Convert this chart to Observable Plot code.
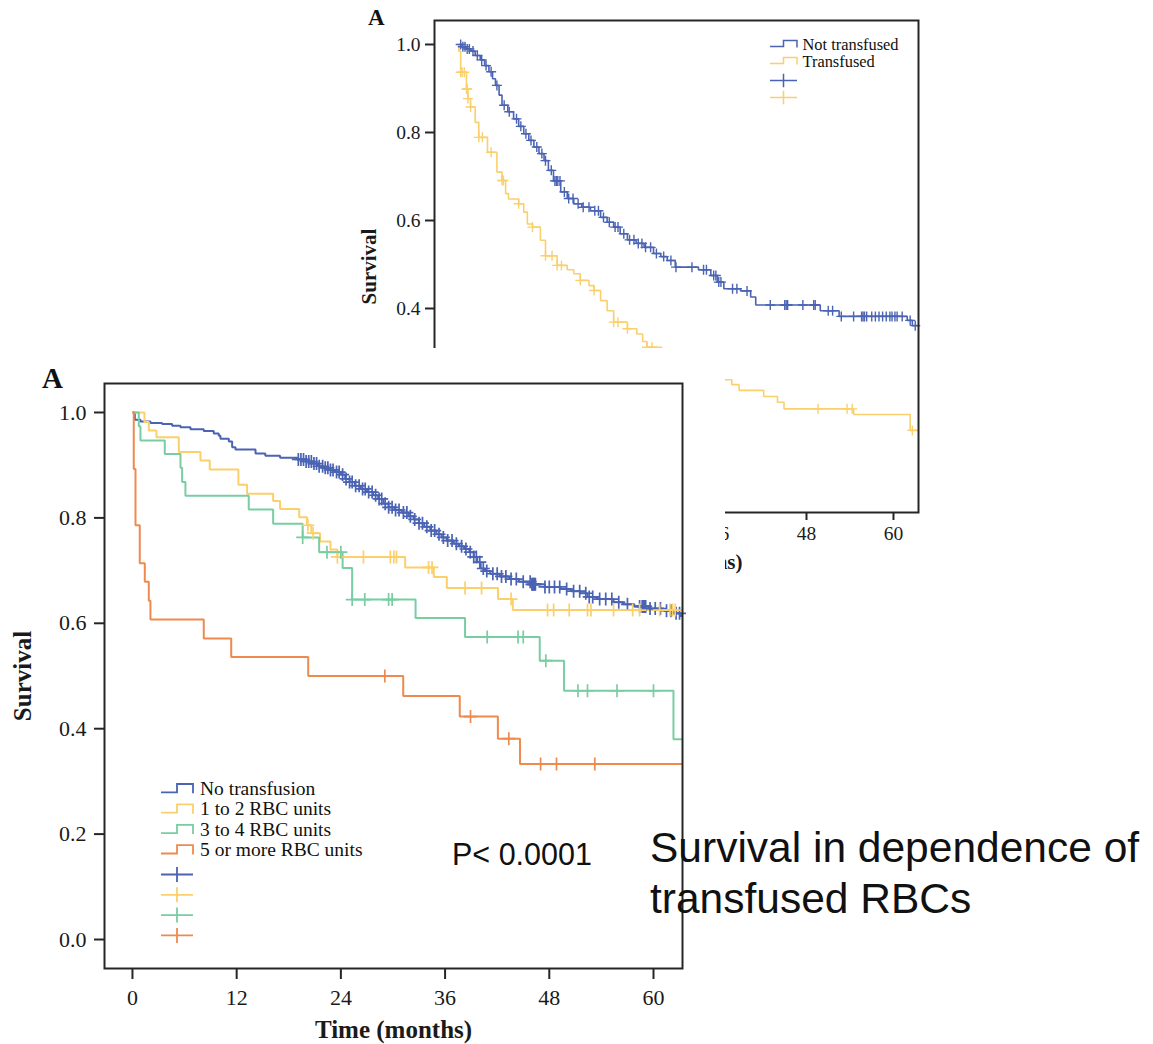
<!DOCTYPE html>
<html>
<head>
<meta charset="utf-8">
<script src="https://cdn.jsdelivr.net/npm/d3@7"></script>
<script src="https://cdn.jsdelivr.net/npm/@observablehq/plot@0.6"></script>
<style>
html, body { margin: 0; padding: 0; background: #fff; }
#page { position: relative; width: 1153px; height: 1044px; overflow: hidden; background: #fff; }
#top { position: absolute; left: 340px; top: 0px; width: 600px; height: 600px; }
#bottomBox { position: absolute; left: 0px; top: 348px; width: 725px; height: 696px; background: #fff; }
#overlay { position: absolute; left: 0; top: 0; width: 1153px; height: 1044px; pointer-events: none; }
#bottomBox g[aria-label="y-axis label"], #bottomBox g[aria-label="x-axis label"] { font-weight: bold; font-size: 25px; }
#top g[aria-label="y-axis label"], #top g[aria-label="x-axis label"] { font-weight: bold; font-size: 21px; }
</style>
</head>
<body>
<div id="page">
  <div id="top"></div>
  <div id="bottomBox"></div>
  <svg id="overlay" width="1153" height="1044"></svg>
</div>
<script>
// ================= DATA =================
const xTicks = [0, 12, 24, 36, 48, 60];
const yTicks = [0.0, 0.2, 0.4, 0.6, 0.8, 1.0];

// ---- Top panel: Not transfused vs Transfused ----
const topSeriesNames = ["Not transfused", "Transfused"];
const topSeriesColors = ["#4a63b3", "#f9d06c"];
const topFollowUpEnd = 64;
const topNotTransfusedSteps = [
  [0,1.0],[0.5,0.995],[1.0,0.99],[1.7,0.985],[2.3,0.975],[3.0,0.965],[3.6,0.952],[4.2,0.938],[4.7,0.922],
  [5.1,0.907],[5.6,0.885],[6.0,0.862],[6.8,0.847],[7.6,0.831],[8.3,0.814],[9.0,0.797],[9.7,0.782],[10.4,0.767],
  [11.1,0.752],[11.8,0.736],[12.4,0.714],[13.1,0.690],[14.1,0.665],[15.0,0.650],[15.9,0.638],[17.0,0.630],
  [18.2,0.622],[19.6,0.607],[20.5,0.596],[21.4,0.585],[22.3,0.570],[23.3,0.556],[24.5,0.548],[25.6,0.539],
  [26.9,0.525],[27.9,0.518],[28.8,0.509],[29.9,0.494],[33.1,0.488],[34.8,0.475],[35.7,0.460],[36.6,0.445],
  [38.9,0.440],[40.3,0.426],[41.0,0.408],[49.9,0.395],[52.5,0.382],[61.9,0.373],[62.6,0.361]
];
const topNotTransfusedCensors = [
  0.3,0.6,0.9,1.2,1.5,2.0,2.6,3.2,3.8,4.5,5.3,6.3,7.0,8.0,8.6,9.3,10.0,10.8,11.5,12.0,12.8,13.3,13.5,13.7,
  14.0,14.6,15.2,15.8,16.5,17.2,18.0,18.8,19.3,20.0,20.8,21.6,22.0,22.8,23.6,24.2,24.8,25.3,25.8,26.5,27.3,
  28.3,29.3,30.0,32.2,33.8,34.2,35.2,35.5,35.9,36.2,37.8,38.4,39.8,43.0,45.0,45.2,45.4,47.5,49.0,49.2,51.0,
  51.6,52.8,54.5,55.6,55.8,56.0,56.3,57.0,57.5,58.0,58.5,59.0,59.5,59.8,60.2,60.5,61.2,62.3,63.0
];
const topTransfusedSteps = [
  [0,1.0],[0.05,0.985],[0.3,0.937],[1.1,0.899],[1.3,0.877],[1.66,0.858],[2.3,0.823],[2.8,0.789],[4.0,0.755],
  [5.3,0.710],[6.0,0.691],[6.5,0.661],[6.9,0.649],[8.3,0.638],[9.0,0.619],[9.5,0.592],[10.2,0.585],[11.3,0.555],
  [12.0,0.520],[13.6,0.498],[15.0,0.488],[15.9,0.479],[16.8,0.464],[18.0,0.452],[18.7,0.441],[19.6,0.418],
  [20.5,0.395],[21.4,0.369],[23.3,0.354],[24.6,0.342],[25.4,0.325],[26.0,0.312],[28.0,0.295],[29.5,0.282],
  [31.0,0.270],[33.0,0.258],[35.0,0.248],[36.5,0.238],[37.7,0.227],[38.7,0.214],[42.1,0.200],[44.0,0.187],
  [44.9,0.172],[54.5,0.159],[62.3,0.123]
];
const topTransfusedCensors = [
  0.3,0.5,0.8,1.1,1.2,1.3,1.66,2.8,3.3,4.5,6.0,6.2,8.3,10.2,12.0,12.9,13.6,14.2,16.8,18.7,21.4,22.0,23.3,
  26.0,26.7,49.6,53.6,54.3,62.6
];

// ---- Bottom panel: by number of RBC units ----
const bottomSeriesNames = ["No transfusion", "1 to 2 RBC units", "3 to 4 RBC units", "5 or more RBC units"];
const bottomSeriesColors = ["#4a63b3", "#fbd06a", "#78cda2", "#ef8a4e"];
const bottomFollowUpEnd = 64;
const noTransfusionSteps = [
  [0,1.0],[0.27,0.986],[0.92,0.983],[2.07,0.980],[3.42,0.978],[4.57,0.975],[5.53,0.972],[6.68,0.968],
  [8.21,0.965],[9.36,0.960],[9.94,0.956],[10.13,0.950],[11.1,0.945],[11.48,0.934],[11.86,0.930],[14.17,0.922],
  [15.3,0.918],[17.0,0.914],[18.97,0.911],[20.0,0.907],[20.8,0.903],[21.4,0.898],[22.0,0.895],[22.6,0.891],
  [23.4,0.887],[24.0,0.882],[24.5,0.874],[25.0,0.868],[25.6,0.861],[26.3,0.855],[27.0,0.849],[27.7,0.843],
  [28.3,0.836],[28.9,0.827],[29.5,0.820],[30.2,0.815],[31.0,0.810],[31.8,0.803],[32.4,0.797],[33.0,0.790],
  [33.6,0.783],[34.3,0.776],[35.0,0.769],[35.6,0.763],[36.2,0.757],[37.0,0.751],[37.6,0.746],[38.2,0.741],
  [38.8,0.735],[39.3,0.726],[39.7,0.716],[40.1,0.704],[40.6,0.699],[41.2,0.694],[42.3,0.689],[43.4,0.684],
  [44.5,0.679],[46.0,0.674],[47.5,0.669],[49.3,0.665],[50.5,0.661],[51.6,0.657],[52.4,0.650],[53.5,0.646],
  [55.4,0.640],[56.5,0.636],[57.8,0.632],[59.5,0.628],[61.2,0.624],[62.3,0.619],[63.1,0.614]
];
const noTransfusionCensors = [
  19.1,19.4,19.7,20.0,20.3,20.6,20.9,21.2,21.5,21.9,22.2,22.5,22.8,23.1,23.5,23.8,24.2,24.6,25.0,25.3,25.7,
  26.1,26.5,26.8,27.2,27.6,28.0,28.4,28.7,29.1,29.5,29.9,30.3,30.7,31.2,31.6,32.0,32.5,33.0,33.4,33.9,34.4,
  34.8,35.3,35.8,36.3,36.8,37.3,37.9,38.4,38.9,39.3,39.6,40.0,40.4,40.8,41.5,42.0,42.5,43.0,43.6,44.2,45.0,
  45.8,46.0,46.1,46.2,46.3,46.4,47.5,48.0,48.6,49.2,50.0,50.8,51.5,52.2,52.6,53.0,53.8,54.5,55.2,56.0,57.0,
  58.4,58.7,58.8,58.9,59.0,59.1,59.6,60.2,60.8,61.5,62.0,62.6,63.0
];
const oneToTwoSteps = [
  [0,1.0],[1.38,0.982],[1.88,0.966],[2.76,0.953],[5.34,0.925],[7.83,0.909],[8.9,0.892],[12.2,0.863],
  [13.2,0.846],[16.2,0.832],[17.0,0.817],[19.2,0.801],[20.1,0.786],[20.6,0.771],[21.6,0.755],[22.8,0.740],
  [23.6,0.726],[31.4,0.706],[34.7,0.688],[36.2,0.667],[42.1,0.646],[43.8,0.625]
];
const oneToTwoCensors = [
  20.2,20.8,23.6,26.6,29.7,30.1,30.4,34.1,34.5,38.3,40.2,43.6,47.8,48.5,50.3,52.4,52.8,55.4,57.6,58.4,
  60.7,61.9,62.2,62.5
];
const threeToFourSteps = [
  [0,1.0],[0.73,0.974],[0.92,0.947],[3.72,0.921],[5.53,0.895],[5.72,0.868],[6.10,0.842],[13.39,0.816],
  [16.2,0.789],[19.6,0.763],[21.5,0.735],[24.2,0.705],[25.3,0.645],[32.6,0.610],[38.3,0.574],[46.9,0.529],
  [49.7,0.472],[62.3,0.380]
];
const threeToFourCensors = [19.6,22.4,24.0,25.3,26.75,29.5,29.9,40.85,44.4,45.0,47.6,51.3,52.4,55.8,60.0];
const fiveOrMoreSteps = [
  [0,1.0],[0.15,0.893],[0.35,0.786],[0.84,0.714],[1.42,0.679],[1.88,0.643],[2.07,0.607],[8.21,0.571],
  [11.37,0.536],[20.24,0.500],[31.18,0.462],[37.69,0.423],[42.08,0.381],[44.63,0.333]
];
const fiveOrMoreCensors = [29.06,38.93,43.34,47.0,48.83,53.24];

const pValueText = "P< 0.0001";
const titleLines = ["Survival in dependence of", "transfused RBCs"];
const panelLetter = "A";

// ================= HELPERS =================
function stepPoints(steps, end) {
  const pts = steps.map(([t, s]) => ({t, s}));
  pts.push({t: end, s: steps[steps.length - 1][1]});
  return pts;
}
function censorPoints(steps, times) {
  return times.map(t => {
    let s = steps[0][1];
    for (const [ti, si] of steps) if (ti <= t) s = si;
    return {t, s};
  });
}
const plusSymbol = {
  draw(ctx, size) {
    const r = Math.sqrt(size / Math.PI);
    ctx.moveTo(-r, 0); ctx.lineTo(r, 0);
    ctx.moveTo(0, -r); ctx.lineTo(0, r);
  }
};

function kmPlot(cfg) {
  const marks = [];
  cfg.steps.forEach((st, i) => {
    marks.push(Plot.line(stepPoints(st, cfg.end), {
      x: "t", y: "s", curve: "step-after", stroke: cfg.colors[i],
      strokeWidth: cfg.lineWidth, clip: true, strokeLinejoin: "miter", strokeLinecap: "butt"
    }));
  });
  cfg.steps.forEach((st, i) => {
    marks.push(Plot.dot(censorPoints(st, cfg.censors[i]), {
      x: "t", y: "s", symbol: plusSymbol, r: cfg.censorR, stroke: cfg.colors[i],
      strokeWidth: cfg.censorWidth, fill: "none"
    }));
  });
  marks.push(Plot.frame({stroke: "#262626", strokeWidth: 2}));
  marks.push(Plot.axisX(xTicks, {
    tickSize: cfg.xTickSize, tickPadding: cfg.xTickPadding, strokeWidth: 2, stroke: "#262626",
    label: "Time (months)", labelAnchor: "center", labelArrow: "none", labelOffset: cfg.xLabelOffset
  }));
  marks.push(Plot.axisY(yTicks, {
    tickSize: cfg.yTickSize, tickPadding: cfg.yTickPadding, strokeWidth: 2, stroke: "#262626",
    tickFormat: d3.format(".1f"),
    label: "Survival", labelAnchor: "center", labelArrow: "none", labelOffset: cfg.yLabelOffset
  }));
  return Plot.plot({
    width: cfg.width, height: cfg.height,
    marginLeft: cfg.margins[0], marginRight: cfg.margins[1], marginTop: cfg.margins[2], marginBottom: cfg.margins[3],
    x: {domain: cfg.xDomain},
    y: {domain: cfg.yDomain},
    style: {fontFamily: "'Liberation Serif', 'Times New Roman', serif", fontSize: cfg.fontSize + "px", color: "#1a1a1a", background: "white"},
    marks
  });
}

// ================= TOP PLOT =================
const topChart = kmPlot({
  steps: [topNotTransfusedSteps, topTransfusedSteps],
  censors: [topNotTransfusedCensors, topTransfusedCensors],
  colors: topSeriesColors, end: topFollowUpEnd,
  width: 600, height: 600, margins: [94, 22, 20, 88],
  xDomain: [-3.31, 63.45], yDomain: [-0.0636, 1.0545],
  fontSize: 19.5, lineWidth: 1.6, censorR: 5, censorWidth: 1.4,
  xTickSize: 8, xTickPadding: 6, xLabelOffset: 56,
  yTickSize: 9, yTickPadding: 5, yLabelOffset: 73
});
document.getElementById("top").appendChild(topChart);

// ================= BOTTOM PLOT =================
const bottomChart = kmPlot({
  steps: [noTransfusionSteps, oneToTwoSteps, threeToFourSteps, fiveOrMoreSteps],
  censors: [noTransfusionCensors, oneToTwoCensors, threeToFourCensors, fiveOrMoreCensors],
  colors: bottomSeriesColors, end: bottomFollowUpEnd,
  width: 725, height: 696, margins: [104, 43, 35, 76],
  xDomain: [-3.22, 63.34], yDomain: [-0.055, 1.055],
  fontSize: 22, lineWidth: 2, censorR: 6.5, censorWidth: 1.7,
  xTickSize: 11, xTickPadding: 10, xLabelOffset: 69,
  yTickSize: 10, yTickPadding: 8, yLabelOffset: 91
});
document.getElementById("bottomBox").appendChild(bottomChart);

// ================= OVERLAY TEXT & LEGENDS =================
const ov = d3.select("#overlay");
const serif = "'Liberation Serif', 'Times New Roman', serif";
const sans = "'Liberation Sans', Arial, sans-serif";

// panel letters
ov.append("text").attr("x", 368).attr("y", 25).attr("font-family", serif).attr("font-weight", "bold")
  .attr("font-size", 23).attr("fill", "#111").text(panelLetter);
ov.append("text").attr("x", 42).attr("y", 388).attr("font-family", serif).attr("font-weight", "bold")
  .attr("font-size", 29).attr("fill", "#111").text(panelLetter);

// legend builder
function legend(names, colors, opt) {
  const g = ov.append("g");
  names.forEach((name, i) => {
    const by = opt.y0 + i * opt.dy;
    const x0 = opt.x0, xm = opt.x0 + opt.w * 0.5, x1 = opt.x0 + opt.w;
    g.append("path")
      .attr("d", `M${x0},${by - opt.low}H${xm}V${by - opt.high}H${x1}V${by - opt.low + 1}`)
      .attr("fill", "none").attr("stroke", colors[i]).attr("stroke-width", opt.sw);
    g.append("text").attr("x", x1 + opt.gap).attr("y", by).attr("font-family", serif)
      .attr("font-size", opt.fs).attr("fill", "#111").text(name);
  });
  colors.forEach((c, i) => {
    const cy = opt.py0 + i * opt.pdy;
    const cx = opt.x0 + opt.w * 0.5;
    g.append("path")
      .attr("d", `M${opt.x0},${cy}H${opt.x0 + opt.w}M${cx},${cy - opt.pr}V${cy + opt.pr}`)
      .attr("fill", "none").attr("stroke", c).attr("stroke-width", opt.sw);
  });
}
legend(topSeriesNames, topSeriesColors, {
  x0: 770, w: 27, y0: 49.5, dy: 17, low: 3, high: 9, gap: 5.5, fs: 16.4, sw: 1.5,
  py0: 80.5, pdy: 17, pr: 6.7
});
legend(bottomSeriesNames, bottomSeriesColors, {
  x0: 161, w: 32, y0: 795, dy: 20.4, low: 2.7, high: 11, gap: 7, fs: 19.5, sw: 1.8,
  py0: 874.5, pdy: 20.3, pr: 7.5
});

// p-value
ov.append("text").attr("x", 452).attr("y", 865).attr("font-family", sans)
  .attr("font-size", 30.5).attr("fill", "#111").text(pValueText);

// title
titleLines.forEach((line, i) => {
  ov.append("text").attr("x", 650).attr("y", 862 + i * 51).attr("font-family", sans)
    .attr("font-size", 42.5).attr("fill", "#111").text(line);
});
</script>
</body>
</html>
